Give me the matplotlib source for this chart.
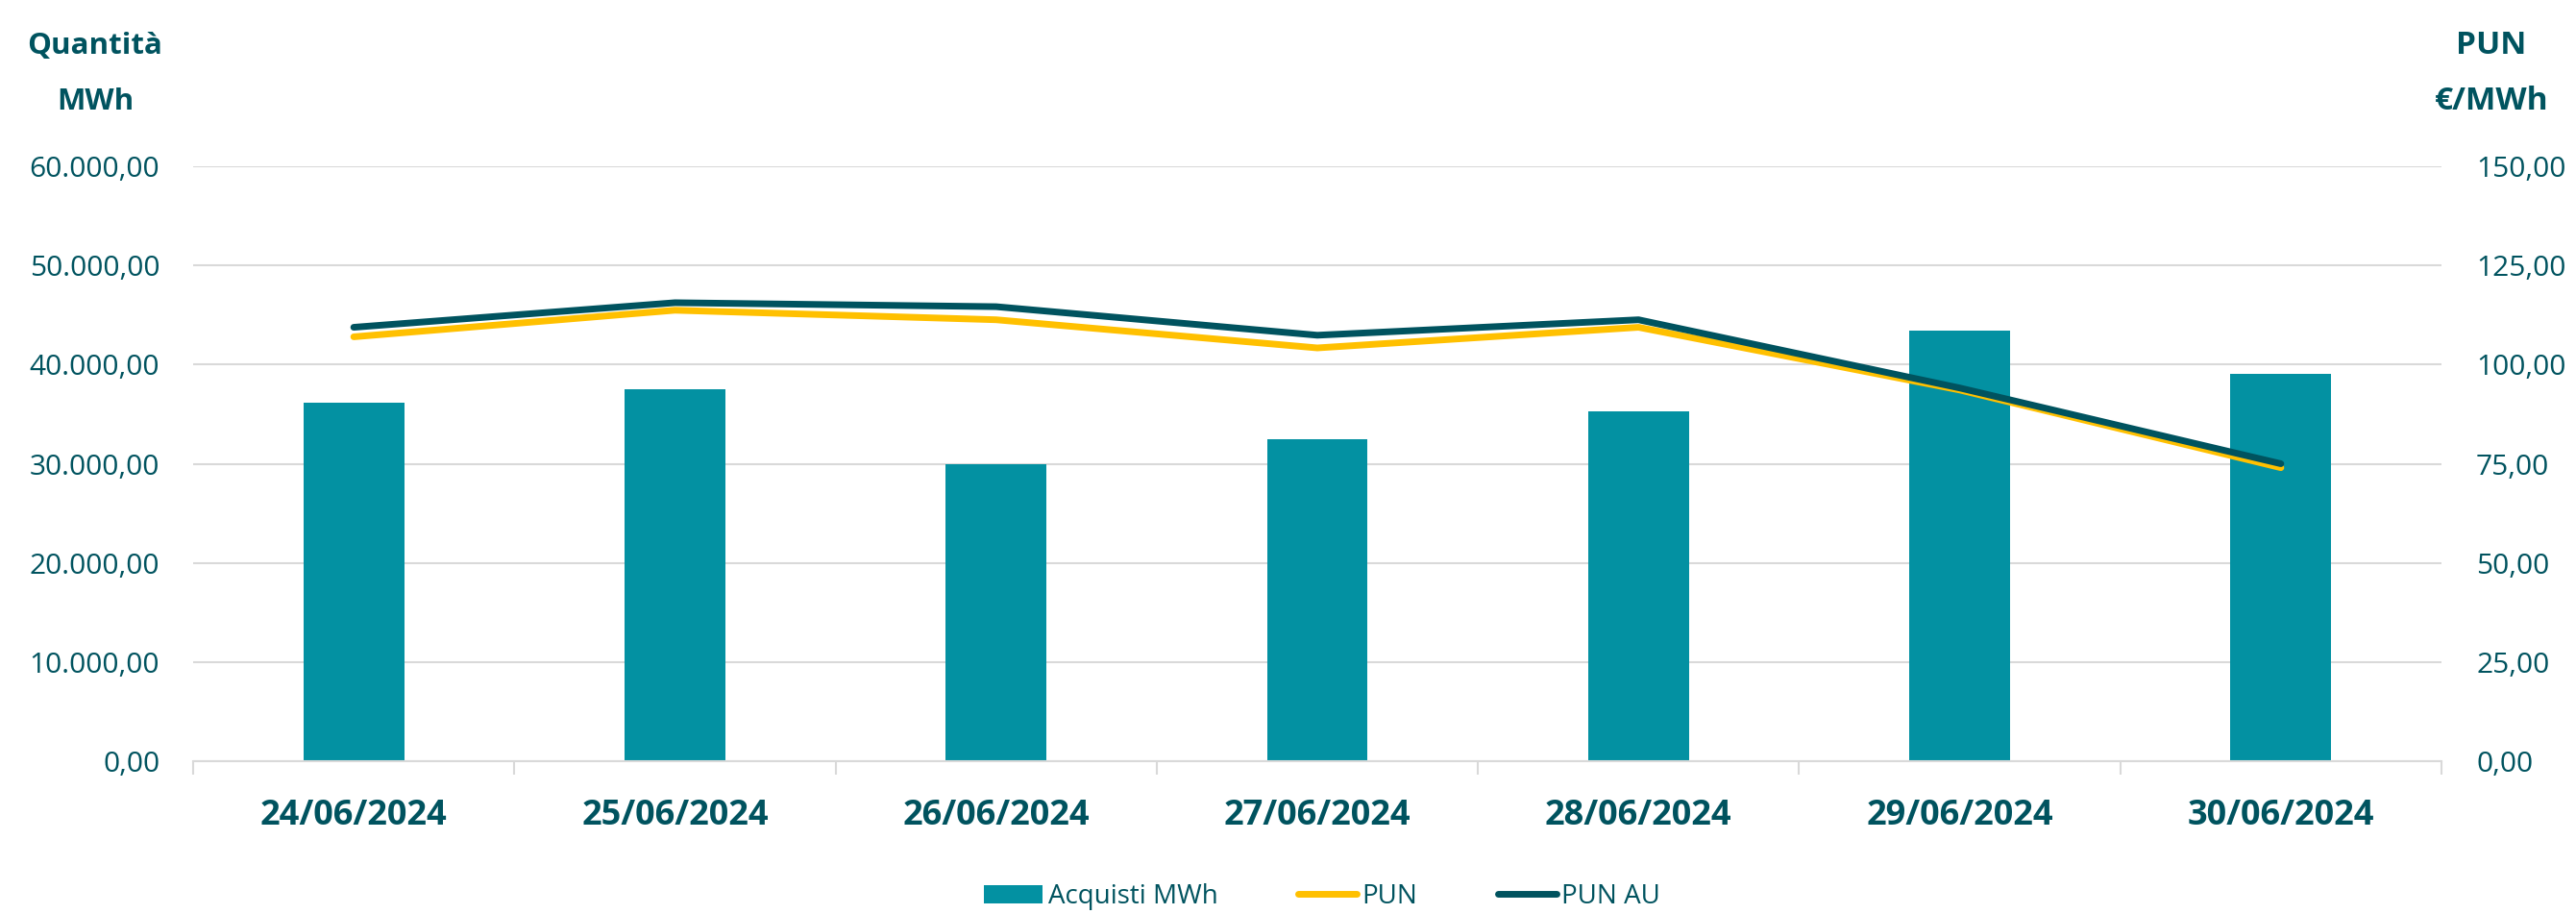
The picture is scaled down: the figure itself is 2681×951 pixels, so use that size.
import numpy as np
import matplotlib
matplotlib.use("Agg")
from matplotlib import pyplot as plt
from matplotlib.ticker import FuncFormatter, FixedLocator

# data
dates = ["24/06/2024", "25/06/2024", "26/06/2024", "27/06/2024",
         "28/06/2024", "29/06/2024", "30/06/2024"]
acquisti = [36150, 37500, 30000, 32450, 35330, 43430, 39050]
pun = [107.0, 113.7, 111.3, 104.2, 109.4, 93.6, 74.0]
pun_au = [109.4, 115.6, 114.6, 107.4, 111.3, 94.1, 75.0]

TXT = "#00535F"
BAR = "#0391A2"
YEL = "#FFC000"
DARK = "#00535F"
GRID = "#D9D9D9"

plt.rcParams['font.family'] = ['Open Sans', 'DejaVu Sans']


def it_fmt(v, pos=None):
    s = "{:,.2f}".format(v)
    return s.replace(",", "X").replace(".", ",").replace("X", ".")


fig = plt.figure(figsize=(26.81, 9.51), dpi=100)
ax = fig.add_axes([201 / 2681, 1 - 792 / 951, (2541 - 201) / 2681, (792 - 173) / 951])
ax2 = ax.twinx()

x = np.arange(len(dates))
bars = ax.bar(x, acquisti, width=0.314, color=BAR, zorder=2, label="Acquisti MWh")
ax.set_xlim(-0.5, len(dates) - 0.5)
ax.set_ylim(0, 60000)
ax.set_yticks(np.arange(0, 60001, 10000))
ax.yaxis.set_major_formatter(FuncFormatter(it_fmt))
ax.grid(axis='y', color=GRID, linewidth=1.5, zorder=0)
ax.set_axisbelow(True)

ax.set_xticks(x)
ax.set_xticklabels(dates, fontsize=26, fontweight='bold', color=TXT)
ax.xaxis.set_minor_locator(FixedLocator(np.arange(-0.5, len(dates), 1.0)))
ax.tick_params(axis='x', which='major', length=0, pad=28)
ax.tick_params(axis='x', which='minor', length=10, width=1.5, color=GRID)
ax.tick_params(axis='y', length=0, pad=25, labelsize=21.5, labelcolor=TXT)

for s in ['top', 'right', 'left']:
    ax.spines[s].set_visible(False)
ax.spines['bottom'].set_color(GRID)
ax.spines['bottom'].set_linewidth(1.5)

l1, = ax2.plot(x, pun, color=YEL, linewidth=5, solid_capstyle='round',
               solid_joinstyle='round', label="PUN", zorder=3)
l2, = ax2.plot(x, pun_au, color=DARK, linewidth=5, solid_capstyle='round',
               solid_joinstyle='round', label="PUN AU", zorder=4)
ax2.set_ylim(0, 150)
ax2.set_yticks(np.arange(0, 151, 25))
ax2.yaxis.set_major_formatter(FuncFormatter(it_fmt))
ax2.tick_params(axis='y', length=0, pad=26, labelsize=21.5, labelcolor=TXT)
for s in ax2.spines.values():
    s.set_visible(False)

fig.text(99 / 2681, 1 - 48 / 951, "Quantità", ha='center', va='center',
         fontsize=22.5, fontweight='bold', color=TXT)
fig.text(99 / 2681, 1 - 106 / 951, "MWh", ha='center', va='center',
         fontsize=22.5, fontweight='bold', color=TXT)
fig.text(2593 / 2681, 1 - 48 / 951, "PUN", ha='center', va='center',
         fontsize=24, fontweight='bold', color=TXT)
fig.text(2593 / 2681, 1 - 106 / 951, "€/MWh", ha='center', va='center',
         fontsize=24, fontweight='bold', color=TXT)

leg = fig.legend([bars, l1, l2], ["Acquisti MWh", "PUN", "PUN AU"],
                 loc='center', bbox_to_anchor=(1376 / 2681, 1 - 933 / 951),
                 ncol=3, frameon=False, fontsize=20, handlelength=2.2,
                 handletextpad=0.2, columnspacing=3.0)
for t in leg.get_texts():
    t.set_color(TXT)

fig.savefig("out.png", dpi=100)
